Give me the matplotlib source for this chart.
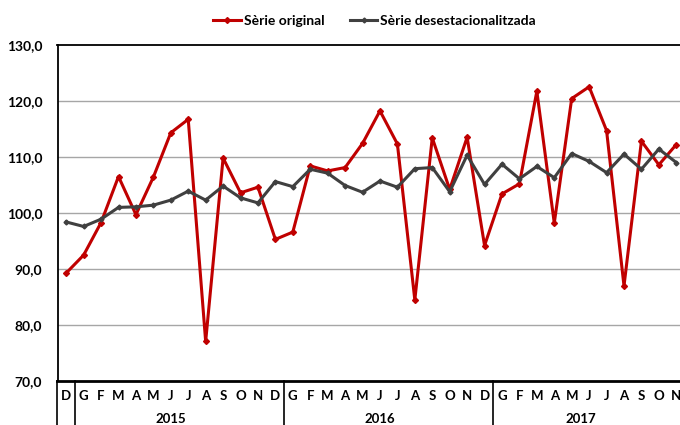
import matplotlib
matplotlib.use('Agg')
import matplotlib.pyplot as plt
import matplotlib.transforms as mtransforms

plt.rcParams['font.family'] = ['Lato', 'DejaVu Sans']
plt.rcParams['font.weight'] = 'bold'

# dades: desembre 2014 - novembre 2017
months = ['D',
          'G', 'F', 'M', 'A', 'M', 'J', 'J', 'A', 'S', 'O', 'N', 'D',
          'G', 'F', 'M', 'A', 'M', 'J', 'J', 'A', 'S', 'O', 'N', 'D',
          'G', 'F', 'M', 'A', 'M', 'J', 'J', 'A', 'S', 'O', 'N']
years = ['2015', '2016', '2017']
months_per_year = [12, 12, 11]

serie_original = [89.3,
                  92.5, 98.3, 106.5, 99.7, 106.4, 114.3, 116.7, 77.1, 109.8, 103.6, 104.6, 95.3,
                  96.6, 108.4, 107.5, 108.1, 112.4, 118.2, 112.3, 84.5, 113.4, 104.2, 113.5, 94.2,
                  103.4, 105.2, 121.7, 98.2, 120.4, 122.5, 114.7, 87.0, 112.8, 108.6, 112.2]
serie_desest = [98.4,
                97.6, 98.9, 101.0, 101.1, 101.4, 102.3, 103.9, 102.3, 104.8, 102.7, 101.8, 105.6,
                104.7, 107.8, 107.1, 104.9, 103.7, 105.7, 104.6, 107.9, 108.1, 103.8, 110.3, 105.1,
                108.7, 106.1, 108.3, 106.3, 110.6, 109.2, 107.2, 110.5, 107.8, 111.4, 109.0]

red = '#C00000'
dark = '#404040'

fig = plt.figure(figsize=(6.8, 4.25), dpi=100)
ax = fig.add_axes([57.5 / 680, 43.7 / 425, 627.5 / 680, 336.6 / 425])

x = list(range(len(months)))
ax.plot(x, serie_original, color=red, lw=2.2, marker='D', ms=3, label='Sèrie original', zorder=3)
ax.plot(x, serie_desest, color=dark, lw=2.2, marker='D', ms=2.5, label='Sèrie desestacionalitzada', zorder=3)

ax.set_xlim(-0.5, len(months) - 0.5)
ax.set_ylim(70, 130)
yt = [70, 80, 90, 100, 110, 120, 130]
ax.set_yticks(yt, [f'{v:.1f}'.replace('.', ',') for v in yt])
ax.tick_params(axis='y', length=0, pad=11, labelsize=10)
for v in yt[1:-1]:
    ax.axhline(v, color='#A6A6A6', lw=1, zorder=1)

ax.set_xticks(x, months)
ax.tick_params(axis='x', length=0, pad=6, labelsize=9.5)

for s in ['top', 'left', 'bottom']:
    ax.spines[s].set_color('black')
ax.spines['top'].set_linewidth(1.3)
ax.spines['left'].set_linewidth(1.3)
ax.spines['bottom'].set_linewidth(2)
ax.spines['right'].set_visible(False)

trans = mtransforms.blended_transform_factory(ax.transData, ax.transAxes)
# línies separadores d'anys
bounds = [-0.5, 0.5]
for n in months_per_year:
    bounds.append(bounds[-1] + n)
for b in bounds[:-1]:
    ax.plot([b, b], [0, -0.14], transform=trans, color='black', lw=1.2, clip_on=False)

for i, (yr, n) in enumerate(zip(years, months_per_year)):
    c = (bounds[i + 1] + bounds[i + 1] + n - 1) / 2
    ax.text(c, -0.113, yr, transform=trans, ha='center', va='center', fontsize=9.5)

fig.legend(loc='center', bbox_to_anchor=(0.551, 0.951), ncol=2, frameon=False,
           fontsize=10, handlelength=2.0, handletextpad=0.2, columnspacing=1.8)

fig.savefig('out.png', dpi=100)
